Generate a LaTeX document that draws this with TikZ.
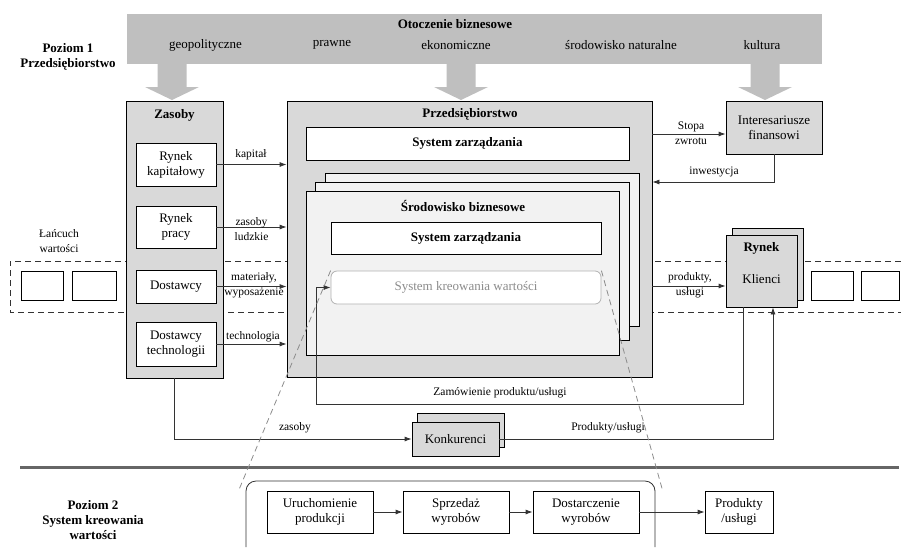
\documentclass[tikz,border=0pt]{standalone}
\usepackage{fontspec}
\setmainfont{Liberation Serif}
\usetikzlibrary{arrows.meta}

\begin{document}
\begin{tikzpicture}[
    x=1pt, y=-1pt,
    tekst/.style={font=\fontsize{13}{15}\selectfont, align=center, inner sep=0pt},
    etykieta/.style={font=\fontsize{11.5}{15}\selectfont, align=center, inner sep=0pt},
    tytul/.style={font=\bfseries\fontsize{13}{15}\selectfont, align=center, inner sep=0pt},
    blok/.style={draw, line width=0.8pt, fill=white, inner sep=0pt, align=center, font=\fontsize{13}{15}\selectfont},
    szary/.style={blok, fill=gray!30},
    kartka/.style={blok, fill=gray!10},
    polaczenie/.style={draw=black!80, line width=0.8pt, -{Latex[length=7pt,width=5pt]}},
    linia/.style={draw=black!80, line width=0.8pt},
    kreski/.style={dash pattern=on 6pt off 4pt},
    lupa/.style={draw=gray!90, kreski, line width=0.8pt}
]

\useasboundingbox (0,0) rectangle (901,547);

% Otoczenie biznesowe
\node[fill=gray!50, minimum width=695, minimum height=50, inner sep=0pt] (otoczenie) at (474.5,39) {};
\node[tytul] (otoczeniet) at (455,24) {Otoczenie biznesowe};
\node[tekst] (geo) at (205.5,45) {geopolityczne};
\node[tekst] (prawne) at (332,45) {prawne};
\node[tekst] (eko) at (456,45) {ekonomiczne};
\node[tekst] (srod) at (621,45) {środowisko naturalne};
\node[tekst] (kult) at (762,45) {kultura};

% Strzalki w dol
\foreach \sx in {172,461,765}
    \fill[gray!50] (\sx-14.5,64) -- (\sx+14.5,64) -- (\sx+14.5,87) -- (\sx+27,87)
        -- (\sx,100) -- (\sx-27,87) -- (\sx-14.5,87) -- cycle;

% Poziomy
\node[tytul] (poziom1) at (68,56.5) {Poziom 1\\Przedsiębiorstwo};

% Lancuch wartosci
\draw[linia, kreski] (901,261) -- (10,261) -- (10,312) -- (901,312);
\node[etykieta] (lancuch) at (59,241.5) {Łańcuch\\wartości};
\node[blok, minimum width=42, minimum height=29] (lw1) at (42,285.5) {};
\node[blok, minimum width=44, minimum height=29] (lw2) at (94,285.5) {};
\node[blok, minimum width=42, minimum height=29] (lw3) at (832,285.5) {};
\node[blok, minimum width=38, minimum height=29] (lw4) at (880,285.5) {};

% Zasoby
\node[szary, minimum width=97, minimum height=277] (zasoby) at (174.5,239.5) {};
\node[tytul] (zasobyt) at (174.5,115) {Zasoby};
\node[blok, minimum width=80, minimum height=43] (rkap) at (176,164.5) {Rynek\\kapitałowy};
\node[blok, minimum width=80, minimum height=42] (rpracy) at (176,227) {Rynek\\pracy};
\node[blok, minimum width=80, minimum height=33] (dost) at (176,286.5) {Dostawcy};
\node[blok, minimum width=80, minimum height=44] (dtech) at (176,344) {Dostawcy\\technologii};

% Przedsiebiorstwo
\node[szary, minimum width=365, minimum height=276] (przeds) at (469.5,239) {};
\node[tytul] (przedst) at (470,114) {Przedsiębiorstwo};
\node[blok, font=\bfseries\fontsize{13}{15}\selectfont, minimum width=323, minimum height=33] (sz1) at (467.5,143.5) {System zarządzania};
\node[kartka, minimum width=314, minimum height=153] (kartka3) at (482,249.5) {};
\node[kartka, minimum width=314, minimum height=158] (kartka2) at (472,261) {};
\node[kartka, minimum width=313, minimum height=164] (kartka1) at (462.5,273) {};
\node[tytul] (srodt) at (463,206) {Środowisko biznesowe};
\node[blok, font=\bfseries\fontsize{13}{15}\selectfont, minimum width=270, minimum height=32] (sz2) at (466,238) {System zarządzania};
\node[blok, draw=gray!60, text=gray!90, rounded corners=6pt, minimum width=270, minimum height=33] (skw) at (466,287.5) {System kreowania wartości};

% Interesariusze i rynek
\node[szary, minimum width=96, minimum height=53] (inter) at (774,127.5) {Interesariusze\\finansowi};
\node[szary, minimum width=71, minimum height=72] (rynek2) at (767.5,264) {};
\node[szary, minimum width=71, minimum height=72] (rynek) at (761.5,271) {};
\node[tytul] (rynekt) at (761.5,248) {Rynek};
\node[tekst] (klienci) at (761.5,279) {Klienci};

% Konkurenci
\node[szary, minimum width=87, minimum height=34] (konk2) at (460.5,430) {};
\node[szary, minimum width=87, minimum height=34] (konk) at (455.5,439) {Konkurenci};

% Przeplywy zasobow
\foreach \n in {rkap,rpracy,dost,dtech}
    \draw[polaczenie] (\n.east) -- (\n.east -| przeds.west);
\node[etykieta] (kapital) at (251,155) {kapitał};
\node[etykieta] (ludzkie) at (251.5,229) {zasoby\\ludzkie};
\node[etykieta] (materialy) at (254,285.5) {materiały,\\wyposażenie};
\node[etykieta] (technologia) at (253,337) {technologia};

% Przeplywy finansowe
\coordinate (stopa) at (690,134);
\coordinate (inw) at (700,182);
\draw[polaczenie] (przeds.east |- stopa) -- (inter.west |- stopa);
\node[etykieta] (stopat) at (691,133.5) {Stopa\\zwrotu};
\draw[polaczenie] (inter.south) |- (przeds.east |- inw);
\node[etykieta] (inwt) at (714,172) {inwestycja};

% Produkty do rynku
\coordinate (prod) at (690,286);
\draw[polaczenie] (przeds.east |- prod) -- (rynek.west |- prod);
\node[etykieta] (prodt) at (690,285.5) {produkty,\\usługi};

% Zamowienie
\coordinate (zam1) at (743,404);
\coordinate (zam2) at (316,404);
\draw[polaczenie] (rynek.south -| zam1) -- (zam1) -- (zam2) |- (skw.west);
\node[etykieta] (zamt) at (500,393) {Zamówienie produktu/usługi};

% Konkurencja
\coordinate (pu) at (773,0);
\draw[polaczenie] (zasoby.south) |- (konk.west);
\node[etykieta] (zasobyk) at (295,428) {zasoby};
\draw[polaczenie] (konk.east) -| (rynek.south -| pu);
\node[etykieta] (put) at (608,428) {Produkty/usługi};

% Poziom 2
\draw[draw=gray!80!black, line width=3pt] (20,467) -- (899,467);
\node[tytul] (poziom2) at (93,520) {Poziom 2\\System kreowania\\wartości};
\draw[linia, rounded corners=10pt] (246,547) -- (246,481) -- (655,481) -- (655,547);
\node[blok, minimum width=106, minimum height=42] (uruch) at (320,512) {Uruchomienie\\produkcji};
\node[blok, minimum width=106, minimum height=42] (sprz) at (456,512) {Sprzedaż\\wyrobów};
\node[blok, minimum width=106, minimum height=42] (dostarcz) at (586,512) {Dostarczenie\\wyrobów};
\node[blok, minimum width=68, minimum height=42] (prod2) at (739,512) {Produkty\\/usługi};
\draw[polaczenie] (uruch) -- (sprz);
\draw[polaczenie] (sprz) -- (dostarcz);
\draw[polaczenie] (dostarcz) -- (prod2);

% Linie powiekszenia
\coordinate (lupaL) at (238,492);
\coordinate (lupaP) at (663,492);
\draw[lupa] (skw.north west) -- (lupaL);
\draw[lupa] (skw.north east) -- (lupaP);

\end{tikzpicture}
\end{document}
